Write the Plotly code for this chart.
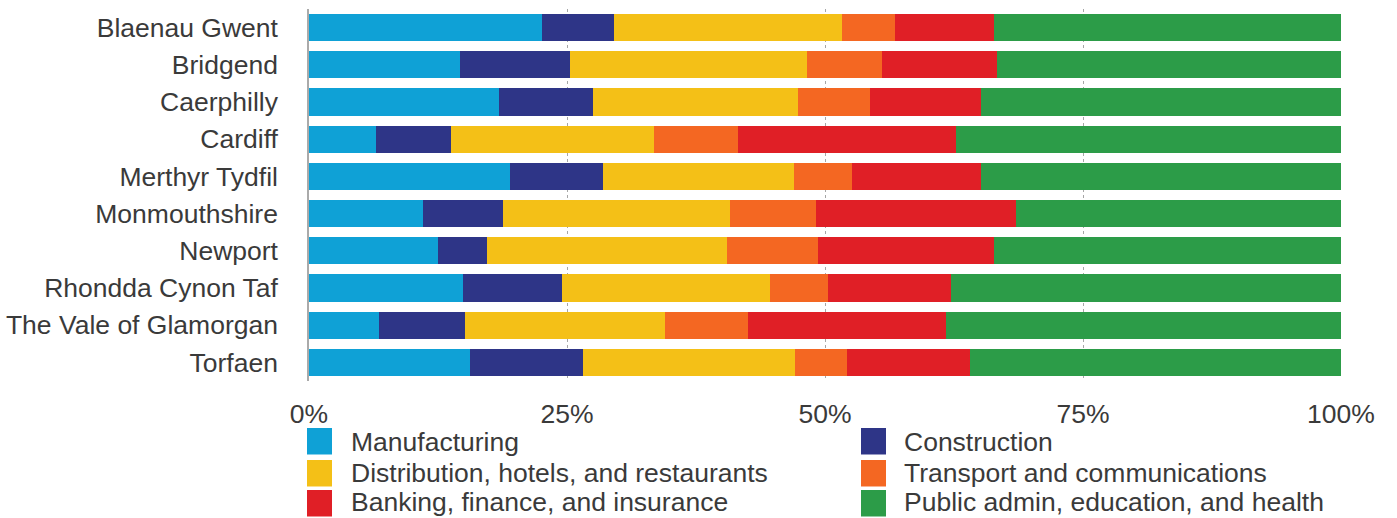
import plotly.graph_objects as go

# Share of employment by sector, per local authority (percent)
authorities = [
    "Blaenau Gwent", "Bridgend", "Caerphilly", "Cardiff", "Merthyr Tydfil",
    "Monmouthshire", "Newport", "Rhondda Cynon Taf", "The Vale of Glamorgan", "Torfaen",
]
manufacturing = [22.6, 14.6, 18.4, 6.5, 19.5, 11.0, 12.5, 14.9, 6.8, 15.6]
construction = [7.0, 10.7, 9.1, 7.3, 9.0, 7.8, 4.7, 9.6, 8.3, 10.9]
distribution = [22.0, 23.0, 19.9, 19.7, 18.5, 22.0, 23.3, 20.2, 19.4, 20.5]
transport = [5.2, 7.3, 7.0, 8.1, 5.6, 8.3, 8.8, 5.6, 8.0, 5.1]
banking = [9.6, 11.1, 10.7, 21.2, 12.5, 19.4, 17.1, 11.9, 19.2, 11.9]
public_admin = [33.6, 33.4, 34.9, 37.3, 34.9, 31.5, 33.6, 37.8, 38.3, 35.9]

sector_names = [
    "Manufacturing", "Construction",
    "Distribution, hotels, and restaurants", "Transport and communications",
    "Banking, finance, and insurance", "Public admin, education, and health",
]
sector_values = [manufacturing, construction, distribution, transport, banking, public_admin]
sector_colors = ["#0FA1D6", "#2E3587", "#F4C017", "#F46722", "#E01F26", "#2C9C48"]

tick_vals = [0, 25, 50, 75, 100]
tick_text = ["0%", "25%", "50%", "75%", "100%"]

W, H = 1397, 518
PLOT_L, PLOT_R, PLOT_T, PLOT_B = 309, 1341, 9, 381
FONT = "Liberation Sans, Arial, sans-serif"
FONT_SIZE = 26.5
TEXT_COLOR = "#3a3a3a"

fig = go.Figure()
for name, vals, color in zip(sector_names, sector_values, sector_colors):
    fig.add_trace(go.Bar(
        y=authorities, x=vals, name=name, orientation="h",
        marker=dict(color=color, line=dict(width=0)),
        showlegend=False,
    ))


def px_x(p):
    return (p - PLOT_L) / (PLOT_R - PLOT_L)


def px_y(p):
    return (PLOT_B - p) / (PLOT_B - PLOT_T)


# Two-column legend with large square swatches
col_swatch_x = [307, 861]
col_text_x = [349, 902]
row_top = [428, 460, 490]
text_mid = [442, 473, 502]
swatch_w, swatch_h = 25, 26.5
shapes = []
annotations = []
for i, (name, color) in enumerate(zip(sector_names, sector_colors)):
    col, row = i % 2, i // 2
    x0 = col_swatch_x[col]
    y0 = row_top[row]
    shapes.append(dict(
        type="rect", xref="paper", yref="paper",
        x0=px_x(x0), x1=px_x(x0 + swatch_w),
        y0=px_y(y0 + swatch_h), y1=px_y(y0),
        fillcolor=color, line=dict(width=0),
    ))
    annotations.append(dict(
        xref="paper", yref="paper",
        x=px_x(col_text_x[col]), y=px_y(text_mid[row]),
        xanchor="left", yanchor="middle", showarrow=False,
        text=name, font=dict(family=FONT, size=FONT_SIZE, color=TEXT_COLOR),
    ))

fig.update_layout(
    width=W, height=H,
    margin=dict(l=PLOT_L, r=W - PLOT_R, t=PLOT_T, b=H - PLOT_B, pad=0, autoexpand=False),
    barmode="stack", barnorm="percent", bargap=0.27,
    plot_bgcolor="white", paper_bgcolor="white",
    showlegend=False,
    shapes=shapes, annotations=annotations,
    font=dict(family=FONT, size=FONT_SIZE, color=TEXT_COLOR),
)
fig.update_xaxes(
    range=[0, 100], tickvals=tick_vals, ticktext=tick_text,
    showgrid=True, gridcolor="#a6a6a6", gridwidth=1, griddash="3px,3px",
    zeroline=False, showline=False, ticks="", automargin=False,
    ticklabelstandoff=14,
    tickfont=dict(family=FONT, size=FONT_SIZE, color=TEXT_COLOR),
)
fig.update_yaxes(
    categoryorder="array", categoryarray=authorities, autorange="reversed",
    showgrid=False, zeroline=False, automargin=False,
    showline=True, linecolor="#aaaaaa", linewidth=1.5,
    ticks="", ticklabelstandoff=24,
    tickfont=dict(family=FONT, size=FONT_SIZE, color=TEXT_COLOR),
)

fig.write_html("out.html")
